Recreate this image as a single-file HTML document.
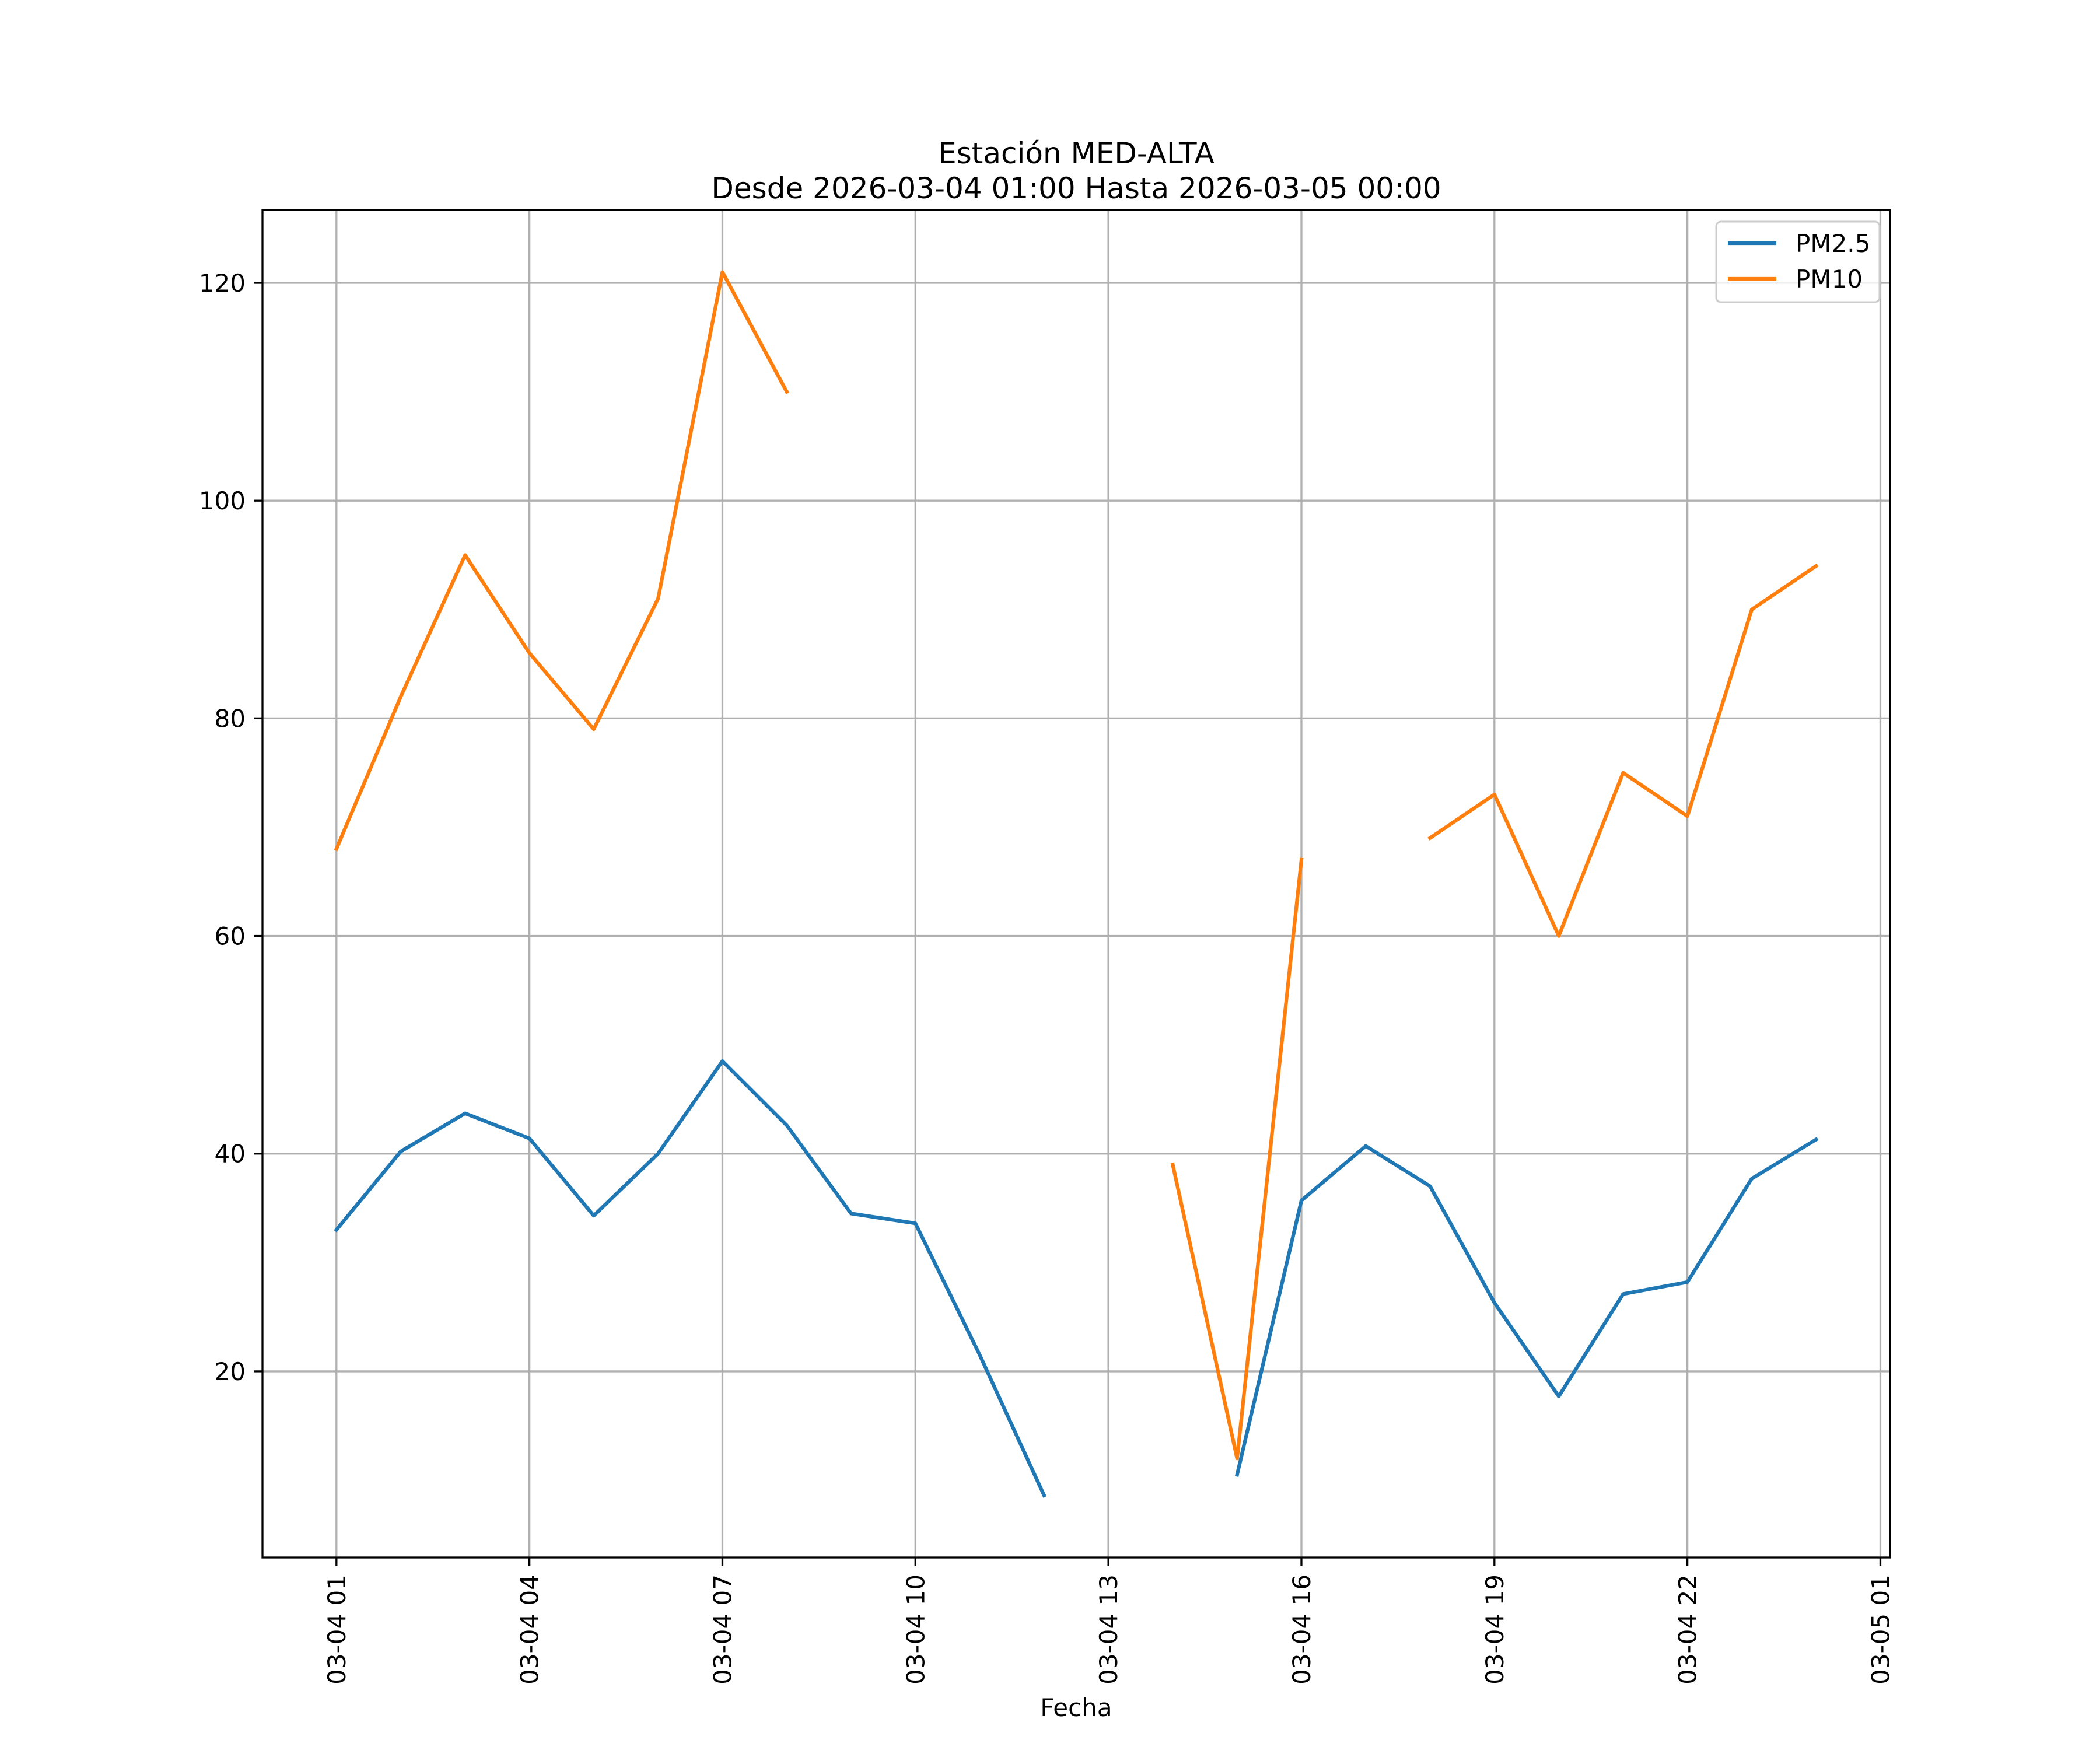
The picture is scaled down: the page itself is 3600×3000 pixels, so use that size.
<!DOCTYPE html>
<html><head><meta charset="utf-8">
<style>
html,body{margin:0;padding:0;background:#fff;}
svg{display:block;font-family:"DejaVu Sans","Liberation Sans",sans-serif;}
</style></head>
<body>
<svg id="chart" width="3600" height="3000" viewBox="0 0 3600 3000">
<rect width="3600" height="3000" fill="#fff"/>
<g id="grid"></g>
<g id="series"></g>
<g id="axes"></g>
<text x="1845" y="280" font-size="50" text-anchor="middle">Estación MED-ALTA</text>
<text x="1845" y="340" font-size="50" text-anchor="middle">Desde 2026-03-04 01:00 Hasta 2026-03-05 00:00</text>
<text x="1845" y="2942" font-size="42" text-anchor="middle">Fecha</text>
<g>
<rect x="2942" y="380" width="280" height="138" fill="#fff" fill-opacity="0.8" stroke="#cccccc" stroke-width="3" rx="8"/>
<g>
<line x1="2962" y1="417" x2="3045" y2="417" stroke="#1f77b4" stroke-width="6.25"/>
<text x="3078" y="432" font-size="42">PM2.5</text></g>
<g>
<line x1="2962" y1="478" x2="3045" y2="478" stroke="#ff7f0e" stroke-width="6.25"/>
<text x="3078" y="493" font-size="42">PM10</text></g>
</g>
</svg>
<script>
const hours = [0,1,2,3,4,5,6,7,8,9,10,11,12,13,14,15,16,17,18,19,20,21,22,23];
const pm25 = [33.0,40.2,43.7,41.4,34.3,40.0,48.5,42.6,34.5,33.6,21.5,8.6,null,null,10.5,35.7,40.7,37.0,26.3,17.7,27.1,28.2,37.7,41.3];
const pm10 = [68,82,95,86,79,91,121,110,null,null,null,null,null,39,12,67,null,69,73,60,75,71,90,94];
const xTickHours = [0,3,6,9,12,15,18,21,24];
const xTickLabels = ["03-04 01","03-04 04","03-04 07","03-04 10","03-04 13","03-04 16","03-04 19","03-04 22","03-05 01"];
const yTicks = [20,40,60,80,100,120];

const L=450,R=3240,T=360,B=2670;
const xMin=-1.15,xMax=24.15,yMin=2.9,yMax=126.7;
const xs=h=>L+(h-xMin)/(xMax-xMin)*(R-L);
const ys=v=>B-(v-yMin)/(yMax-yMin)*(B-T);
const NS="http://www.w3.org/2000/svg";
function mk(tag,attrs,parent){const e=document.createElementNS(NS,tag);for(const k in attrs)e.setAttribute(k,attrs[k]);parent.appendChild(e);return e;}
const grid=document.getElementById('grid'),axes=document.getElementById('axes'),series=document.getElementById('series');

xTickHours.forEach((h,i)=>{
  const x=xs(h);
  const g=mk('line',{x1:x,y1:T,x2:x,y2:B,stroke:'#b0b0b0','stroke-width':3.3},grid);
  
  
  const t=mk('line',{x1:x,y1:B,x2:x,y2:B+14.6,stroke:'#000','stroke-width':3.3},axes);
  
  
  const lb=mk('text',{x:0,y:0,'font-size':42,'text-anchor':'end',transform:`translate(${x+15},${B+29}) rotate(-90)`},axes);
  lb.textContent=xTickLabels[i];
  
  
});
yTicks.forEach(v=>{
  const y=ys(v);
  const g=mk('line',{x1:L,y1:y,x2:R,y2:y,stroke:'#b0b0b0','stroke-width':3.3},grid);
  
  
  const t=mk('line',{x1:L-14.6,y1:y,x2:L,y2:y,stroke:'#000','stroke-width':3.3},axes);
  
  
  const lb=mk('text',{x:L-29,y:y+15,'font-size':42,'text-anchor':'end'},axes);
  lb.textContent=String(v);
  
  
});
function drawSeries(vals,color,name){
  let d='',pen=false;
  vals.forEach((v,i)=>{
    if(v==null){pen=false;return;}
    d+=(pen?'L':'M')+xs(hours[i]).toFixed(1)+' '+ys(v).toFixed(1)+' ';
    pen=true;
  });
  const p=mk('path',{d:d,fill:'none',stroke:color,'stroke-width':6.25,'stroke-linejoin':'round','stroke-linecap':'square'},series);
  
  
}
drawSeries(pm25,'#1f77b4','pm25-line');
drawSeries(pm10,'#ff7f0e','pm10-line');
const frame=mk('rect',{x:L,y:T,width:R-L,height:B-T,fill:'none',stroke:'#000','stroke-width':3.3},axes);


</script>
</body></html>
